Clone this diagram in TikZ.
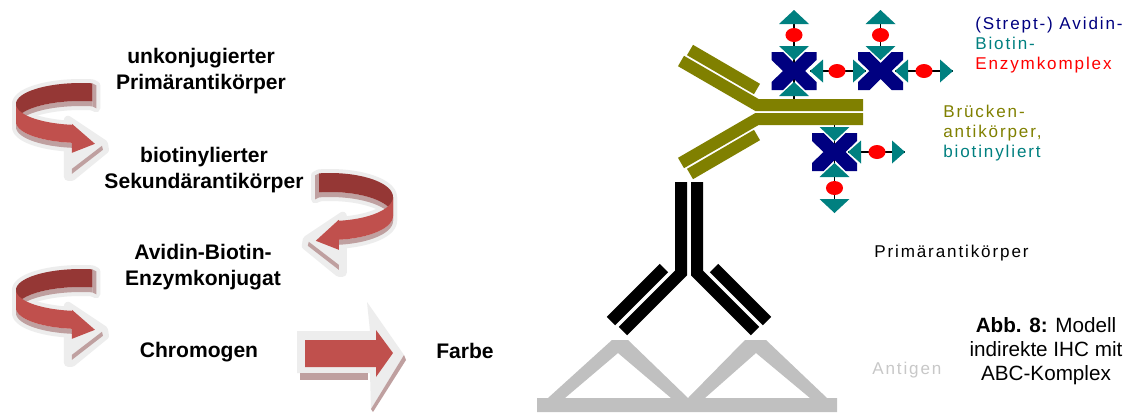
\documentclass[tikz,border=0pt]{standalone}
\usepackage{fontspec}
\setmainfont{Liberation Sans}
\newfontfamily\screenfont[LetterSpace=11]{Liberation Sans}

\definecolor{navyx}{HTML}{000080}
\definecolor{tealx}{HTML}{008080}
\definecolor{olivex}{HTML}{808000}
\definecolor{redx}{HTML}{FF0000}
\definecolor{antigray}{HTML}{C0C0C0}
\definecolor{labelgray}{HTML}{C8C8C8}
\definecolor{ribbondark}{HTML}{953735}
\definecolor{ribbonlight}{HTML}{C0504D}
\definecolor{ribbonrim}{HTML}{EDEDED}
\definecolor{ribbonedge}{HTML}{BFA0A0}

\tikzset{
  flowtext/.style={font=\bfseries\fontsize{15.8}{19.5}\selectfont, align=center, inner sep=0pt},
  smalllabel/.style={font=\screenfont\fontsize{12.8}{15}\selectfont, align=left, inner sep=0pt, anchor=west},
  captiontext/.style={font=\fontsize{15.5}{18}\selectfont, align=center, inner sep=0pt},
  igblack/.style={line width=9pt, black, line join=miter},
  igolive/.style={line width=9pt, olivex, line join=miter},
  linker/.style={line width=1.1pt, black},
  rim/.style={fill=ribbonrim, draw=ribbonrim, line width=6pt, line join=round},
}

% one slice of the curled ribbon: centre #1,#2; radii #3,#4; side #5;
% angles #6 to #7; upper and lower vertical offsets #8, #9
\newcommand\ribbonband[9]{%
  plot[domain=#6:#7,samples=36,variable=\t]({#1+(#5)*(#3)*cos(\t)},{#2+(#4)*sin(\t)+#8})
  -- plot[domain=#7:#6,samples=36,variable=\t]({#1+(#5)*(#3)*cos(\t)},{#2+(#4)*sin(\t)+#9}) -- cycle}

% curled 3D arrow: centre #1,#2; radii #3,#4; band height #5; side #6 (1 = curls round the left)
\newcommand\ringarrow[6]{%
  \pgfmathsetmacro\raXe{#1+(#6)*(#3)*cos(98)}%
  \pgfmathsetmacro\raYe{#2+(#4)*sin(98)}%
  \pgfmathsetmacro\raXs{#1+(#6)*(#3)*cos(280)}%
  \pgfmathsetmacro\raYs{#2+(#4)*sin(280)}%
  \pgfmathsetmacro\raXt{\raXe+(#6)*23}%
  \pgfmathsetmacro\raYt{\raYe+#5+1}%
  \pgfmathsetmacro\raYh{\raYe+#5+10}%
  % light rim
  \path[rim] \ribbonband{#1}{#2}{#3}{#4}{#6}{280}{180}{0}{#5+5};
  \path[rim] \ribbonband{#1}{#2}{#3}{#4}{#6}{180}{98}{0}{#5+5};
  \path[rim] ({\raXe-(#6)*4},{\raYe-5}) -- ({\raXe+(#6)*32},{\raYe+19}) -- ({\raXe+(#6)*33},{\raYe+25})
     -- (\raXe,{\raYe+52}) -- ({\raXe-(#6)*4},{\raYe+52}) -- cycle;
  \path[rim] (\raXs,\raYs) -- ({\raXs+(#6)*4},{\raYs+2}) -- ({\raXs+(#6)*4},{\raYs+#5+7}) -- (\raXs,{\raYs+#5+5}) -- cycle;
  % back half, inner face
  \fill[ribbonedge] \ribbonband{#1}{#2}{#3}{#4}{#6}{280}{180}{#5}{#5+5};
  \fill[ribbonedge] (\raXs,\raYs) -- ({\raXs+(#6)*4},{\raYs+2}) -- ({\raXs+(#6)*4},{\raYs+#5+7}) -- (\raXs,{\raYs+#5+5}) -- cycle;
  \fill[ribbondark] \ribbonband{#1}{#2}{#3}{#4}{#6}{280}{180}{0}{#5};
  % front half, outer face
  \fill[ribbonedge] \ribbonband{#1}{#2}{#3}{#4}{#6}{180}{98}{#5}{#5+5};
  \fill[ribbonlight] \ribbonband{#1}{#2}{#3}{#4}{#6}{180}{98}{0}{#5};
  % arrow head with its lower bevel
  \fill[ribbonedge] ({\raXe+(#6)*30},{\raYe+21}) -- (\raXe,{\raYe+44}) -- (\raXe,{\raYe+49}) -- ({\raXe+(#6)*31},{\raYe+25}) -- cycle;
  \fill[ribbonlight] (\raXe,{\raYe-1}) -- (\raXt,\raYt) -- (\raXe,\raYh) -- cycle;
}

% streptavidin cross with four binding pockets
\newcommand\avidinx[2]{%
  \fill[navyx, shift={(#1,#2)}] (-22.5,-19) -- (-11,-19) -- (0,-8) -- (11,-19) -- (22.5,-19)
    -- (22.5,-11) -- (11,0) -- (22.5,11) -- (22.5,19) -- (11,19) -- (0,8) -- (-11,19)
    -- (-22.5,19) -- (-22.5,11) -- (-11,0) -- (-22.5,-11) -- cycle;}
% biotin wedges, apex at (#1,#2)
\newcommand\tridown[2]{\fill[tealx] ({#1-15},{#2-14}) -- ({#1+15},{#2-14}) -- (#1,#2) -- cycle;}
\newcommand\triup[2]{\fill[tealx] ({#1-15},{#2+14}) -- ({#1+15},{#2+14}) -- (#1,#2) -- cycle;}
\newcommand\trileft[2]{\fill[tealx] ({#1+13},{#2-11.5}) -- ({#1+13},{#2+11.5}) -- (#1,#2) -- cycle;}
\newcommand\triright[2]{\fill[tealx] ({#1-13},{#2-11.5}) -- ({#1-13},{#2+11.5}) -- (#1,#2) -- cycle;}
% enzyme
\newcommand\enzyme[2]{\fill[redx] (#1,#2) ellipse [x radius=6.4pt, y radius=5.25pt];}

\begin{document}
\begin{tikzpicture}[x=0.75pt, y=-0.75pt]
\useasboundingbox (0,0) rectangle (1129,412);
\fill[white] (0,0) rectangle (1129,412);

% ---------- staining sequence ----------
\ringarrow{81}{104}{65}{21}{18}{1}
\ringarrow{330}{197}{63}{24}{19}{-1}
\ringarrow{81}{290}{65}{21}{18}{1}

% straight arrow to the colour reaction
\fill[ribbonrim] (297,331) -- (370,331) -- (367,302) -- (404,355) -- (371,409) -- (370,373) -- (297,373) -- cycle;
\fill[ribbonedge] (300,373) rectangle (368,380);
\fill[ribbonedge] (404,355) -- (406,360) -- (373,412) -- (371,409) -- cycle;
\fill[ribbonlight] (305,340) -- (376,340) -- (376,330) -- (393,353) -- (376,377) -- (376,367) -- (305,367) -- cycle;

\node[flowtext] (prim) at (201,71) {unkonjugierter\\Primärantikörper};
\node[flowtext] (sek) at (204,170) {biotinylierter\\Sekundärantikörper};
\node[flowtext] (abc) at (203,267) {Avidin-Biotin-\\Enzymkonjugat};
\node[flowtext] (chrom) at (199,352) {Chromogen};
\node[flowtext] (farbe) at (465,351) {Farbe};

% ---------- model ----------
% antigen
\fill[antigray, even odd rule]
  (537,412) -- (537,398) -- (548,398) -- (612,340) -- (628,340) -- (688,398) -- (745,340)
  -- (766,340) -- (827,398) -- (837,398) -- (837,412) -- cycle
  (565,398) -- (618,353) -- (671,398) -- cycle
  (705,398) -- (756,353) -- (810,398) -- cycle;

% primary antibody
\draw[igblack] (681,182) -- (681,273) -- (623,331);
\draw[igblack] (697,182) -- (697,273) -- (755,331);
\draw[igblack] (664,268) -- (611,321);
\draw[igblack] (714,268) -- (767,321);

% biotinylated bridging antibody
\draw[igolive] (863,105) -- (757,105) -- (681,61);
\draw[igolive] (863,119) -- (757,119) -- (681,163);
\draw[igolive] (757,89) -- (690,50);
\draw[igolive] (757,135) -- (690,174);

% linkers
\draw[linker] (794,16) -- (794,99);
\draw[linker] (810,71) -- (866,71);
\draw[linker] (880.5,16) -- (880.5,60);
\draw[linker] (895,71) -- (953,71);
\draw[linker] (834.5,125) -- (834.5,207);
\draw[linker] (848,152) -- (905,152);

% avidin-biotin-enzyme complex
\avidinx{794}{71}
\tridown{794}{60}
\enzyme{794}{35}
\triup{794}{10}
\triup{794}{82}
\trileft{810}{71}
\enzyme{837}{71}
\triright{866}{71}

\avidinx{880.5}{71}
\tridown{880.5}{60}
\enzyme{880.5}{35}
\triup{880.5}{10}
\trileft{895}{71}
\enzyme{924}{71}
\triright{953}{71}

\avidinx{834.5}{152}
\tridown{834.5}{141}
\trileft{848}{152}
\enzyme{877}{152}
\triright{905}{152}
\triup{834.5}{163}
\enzyme{834.5}{188}
\tridown{834.5}{213}

% labels
\node[smalllabel] (lababc) at (975,45) {\textcolor{navyx}{(Strept-) Avidin-}\\\textcolor{tealx}{Biotin-}\\\textcolor{redx}{Enzymkomplex}};
\node[smalllabel] (labbridge) at (943,133) {\textcolor{olivex}{Brücken-}\\\textcolor{olivex}{antikörper,}\\\textcolor{tealx}{biotinyliert}};
\node[smalllabel] (labprim) at (874,253) {Primärantikörper};
\node[smalllabel, text=labelgray] (labantigen) at (872,370) {Antigen};
\node[captiontext] (caption) at (1046,351) {\textbf{Abb. 8:} Modell\\indirekte IHC mit\\ABC-Komplex};
\end{tikzpicture}
\end{document}
